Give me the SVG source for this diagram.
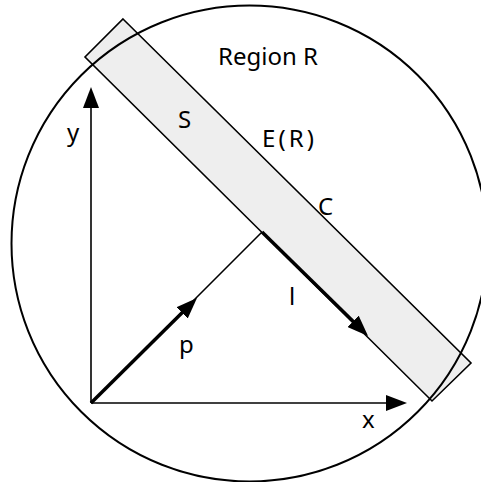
<svg xmlns="http://www.w3.org/2000/svg" width="481" height="482" viewBox="0 0 481 482">
<style>
.lbl{font-family:"Noto Sans","DejaVu Sans",sans-serif;font-size:24px;fill:#000}
.thin{stroke:#000;stroke-width:1.6;fill:none}
.thick{stroke:#000;stroke-width:3.5;fill:none}
</style>
<defs>
<marker id="ah" viewBox="0 0 21 16" markerWidth="21" markerHeight="16" refX="11" refY="8" orient="auto" markerUnits="userSpaceOnUse">
<path d="M0,0 L21,8 L0,16 z" fill="#000"/>
</marker>
</defs>
<rect width="481" height="482" fill="#fff"/>
<g id="band">
<polygon points="123,19 471,363 432,401 85,57" fill="#eeeeee" stroke="#000" stroke-width="1.6"/>
</g>
<g id="region">
<circle cx="249.5" cy="243.5" r="238" fill="none" stroke="#000" stroke-width="2"/>
</g>
<g id="connectors">
<line class="thin" x1="91" y1="403" x2="262" y2="232"/>
<line class="thin" x1="91" y1="403" x2="91" y2="97" marker-end="url(#ah)"/>
<line class="thin" x1="91" y1="403" x2="397" y2="403" marker-end="url(#ah)"/>
<line class="thick" x1="91" y1="403" x2="189.9" y2="305.1" marker-end="url(#ah)"/>
<line class="thick" x1="262" y1="232" x2="360.9" y2="329" marker-end="url(#ah)"/>
</g>
<g id="labels">
<text class="lbl" x="218" y="65">Region R</text>
<text class="lbl" x="178" y="128">S</text>
<text class="lbl" x="262" y="147" textLength="52" lengthAdjust="spacing">E(R)</text>
<text class="lbl" x="318" y="215">C</text>
<text class="lbl" x="67" y="141">y</text>
<text class="lbl" x="289" y="305">l</text>
<text class="lbl" x="179" y="353">p</text>
<text class="lbl" x="362" y="428">x</text>
</g>
</svg>
